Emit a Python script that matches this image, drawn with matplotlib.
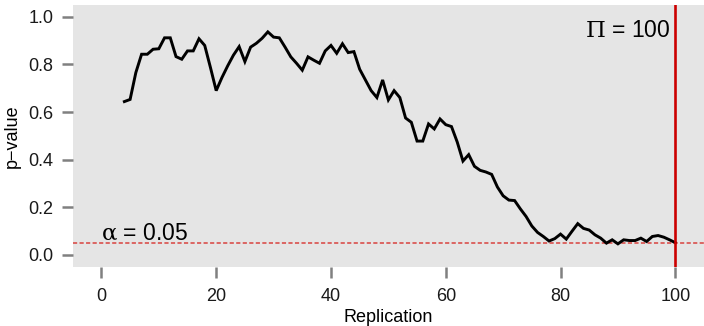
"""
Running p-value across replications, with the alpha threshold and the
final replication count marked.
"""

import matplotlib
matplotlib.use("Agg")
import matplotlib.pyplot as plt

# replication index and the p-value observed after each replication
replication = list(range(4, 101))
p_value = [
    0.644, 0.653, 0.766, 0.843, 0.843, 0.864, 0.866, 0.912, 0.912, 0.833,
    0.822, 0.857, 0.857, 0.908, 0.880, 0.787, 0.690, 0.745, 0.794, 0.839,
    0.875, 0.812, 0.873, 0.889, 0.910, 0.937, 0.915, 0.912, 0.873, 0.832,
    0.805, 0.776, 0.832, 0.818, 0.805, 0.857, 0.880, 0.847, 0.887, 0.850,
    0.854, 0.780, 0.735, 0.690, 0.661, 0.735, 0.651, 0.690, 0.661, 0.575,
    0.557, 0.478, 0.478, 0.550, 0.529, 0.571, 0.547, 0.539, 0.474, 0.394,
    0.421, 0.372, 0.355, 0.348, 0.338, 0.285, 0.248, 0.230, 0.228, 0.193,
    0.161, 0.121, 0.094, 0.077, 0.058, 0.068, 0.087, 0.066, 0.099, 0.131,
    0.111, 0.104, 0.084, 0.070, 0.049, 0.063, 0.046, 0.063, 0.060, 0.060,
    0.070, 0.056, 0.077, 0.081, 0.074, 0.063, 0.051,
]

alpha = 0.05
n_max = 100
x_ticks = [0, 20, 40, 60, 80, 100]
y_ticks = [0.0, 0.2, 0.4, 0.6, 0.8, 1.0]

plt.rcParams["font.family"] = ["Liberation Sans", "DejaVu Sans"]
plt.rcParams["mathtext.fontset"] = "dejavuserif"
plt.rcParams["lines.scale_dashes"] = False


def draw_chart(path="out.png"):
    """Draw the p-value trace and save it."""
    fig = plt.figure(figsize=(7.04, 3.26), dpi=100)
    ax = fig.add_axes([0.1033, 0.1819, 0.8967, 0.8028])
    ax.set_facecolor("#E5E5E5")
    for spine in ax.spines.values():
        spine.set_visible(False)

    ax.axhline(alpha, color="#D9423F", lw=1.1, ls=(0, (3.0, 1.7)), zorder=1)
    ax.plot(replication, p_value, color="black", lw=2.1,
            solid_joinstyle="miter", zorder=2)
    ax.axvline(n_max, color="#CC0000", lw=1.9, zorder=3)

    # greek symbols upright, as in plotmath
    ax.text(0, 0.066, r"$\mathrm{\alpha}$ = 0.05", ha="left", va="baseline",
            fontsize=16.5, color="black")
    ax.text(n_max - 0.8, 0.915, r"$\mathrm{\Pi}$ = 100", ha="right",
            va="baseline", fontsize=16.5, color="black")

    ax.set_xlim(-5, 105)
    ax.set_ylim(-0.05, 1.05)
    ax.set_xticks(x_ticks)
    ax.set_xticklabels([str(t) for t in x_ticks])
    ax.set_yticks(y_ticks)
    ax.set_yticklabels([f"{t:.1f}" for t in y_ticks])
    ax.tick_params(length=8, width=1.8, color="#808080", labelsize=13,
                   labelcolor="#1A1A1A", pad=6)
    ax.tick_params(axis="x", pad=7)

    ax.set_xlabel("Replication", fontsize=13, labelpad=3)
    ax.set_ylabel("p\u2212value", fontsize=13, labelpad=5)

    fig.savefig(path, dpi=100)


draw_chart()
